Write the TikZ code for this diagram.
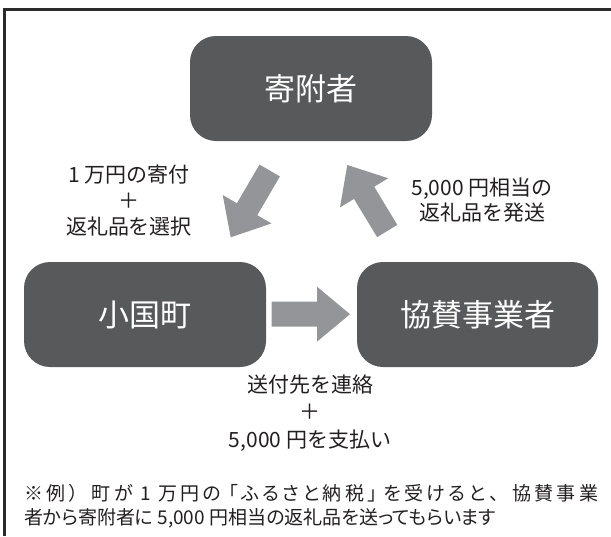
\documentclass[tikz,border=0pt]{standalone}
\usepackage{fontspec}
\setmainfont{Noto Sans CJK JP}
\newfontfamily\notefont[RawFeature=+palt]{Noto Sans CJK JP}
\usetikzlibrary{calc}
\definecolor{boxgray}{HTML}{58595B}
\definecolor{arrgray}{HTML}{939598}
\definecolor{txtc}{HTML}{231F20}
\definecolor{framec}{HTML}{2B2B2B}
\newcommand\blockarrow[5]{% tail, tip, shaft half width, head half width, head length
  \coordinate (#1-hb) at ($(#2)!#5!(#1)$);
  \fill[arrgray] ($(#1)!#3!90:(#2)$) -- ($(#1-hb)!#3!90:(#2)$) -- ($(#1-hb)!#4!90:(#2)$)
    -- (#2) -- ($(#1-hb)!#4!-90:(#2)$) -- ($(#1-hb)!#3!-90:(#2)$) -- ($(#1)!#3!-90:(#2)$) -- cycle;
}
\newcommand\gl{\hskip 0pt plus 1fil\relax}
\newcommand\Gl{\hskip 0pt plus 4fil\relax}
\newcommand\Ml{\hskip 0pt plus 2fil\relax}
\begin{document}
\begin{tikzpicture}[x=1pt,y=-1pt,
  box/.style={fill=boxgray, rounded corners=26pt, minimum width=242pt, minimum height=105pt,
    inner sep=0pt, text=white, font=\fontsize{31}{36}\selectfont},
  lbl/.style={text=txtc, align=center, inner sep=0pt, font=\fontsize{21}{26}\selectfont},
  note/.style={text=txtc, inner sep=0pt, anchor=west, font=\notefont\fontsize{19}{24}\selectfont}]
\useasboundingbox (0,0) rectangle (611,536);
\draw[line width=2.7pt, framec] (4.7,536) -- (4.7,9.7) -- (611,9.7);

\node[box] (donor) at (311,88.5) {寄附者};
\node[box] (town) at (145,314.5) {小国町};
\node[box, minimum width=241pt] (sponsor) at (477.5,314.5) {協賛事業者};

\coordinate (la) at (269.7,170.5); \coordinate (lb) at (230.7,237.3);
\coordinate (ra) at (387.2,231); \coordinate (rb) at (347.3,165);
\coordinate (ma) at (271.7,314.2); \coordinate (mb) at (350,314.2);
\blockarrow{la}{lb}{11.8pt}{28.2pt}{32.5pt}
\blockarrow{ra}{rb}{11.8pt}{28.2pt}{32.5pt}
\blockarrow{ma}{mb}{12.5pt}{27.5pt}{33pt}

\node[lbl] (lab1) at (129,201) {1 万円の寄付\\＋\\返礼品を選択};
\node[lbl, font=\fontsize{21}{25}\selectfont] (lab2) at (482,200.5) {5,000 円相当の\\返礼品を発送};
\node[lbl, font=\fontsize{21}{27.5}\selectfont] (lab3) at (310,413) {送付先を連絡\\＋\\5,000 円を支払い};

\node[note] (note1) at (24,493) {\hbox to 574pt{※\gl 例\gl ）\Gl 町\gl が\gl\ 1\ \gl 万\gl 円\gl の\Ml 「\gl ふ\gl る\gl さ\gl と\gl 納\gl 税\gl 」\Ml を\gl 受\gl け\gl る\gl と\gl 、\Gl 協\gl 賛\gl 事\gl 業}};
\node[note] (note2) at (24,518) {者から寄附者に 5,000 円相当の返礼品を送ってもらいます};
\end{tikzpicture}
\end{document}
